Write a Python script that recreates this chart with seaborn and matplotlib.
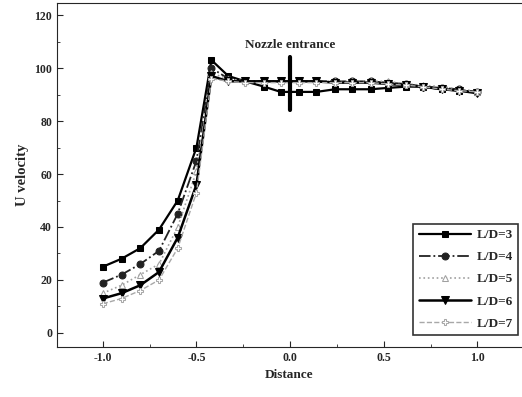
import matplotlib
matplotlib.use("Agg")
import matplotlib.pyplot as plt
import pandas as pd
import seaborn as sns
from matplotlib.ticker import MultipleLocator

sns.set_style("ticks")
plt.rcParams["font.family"] = ["Liberation Serif", "DejaVu Serif"]
plt.rcParams["font.weight"] = "bold"

distance = [-1.0, -0.9, -0.8, -0.7, -0.6, -0.5, -0.42, -0.33, -0.24, -0.14, -0.05,
            0.05, 0.14, 0.24, 0.33, 0.43, 0.52, 0.62, 0.71, 0.81, 0.9, 1.0]
ld3 = [25, 28, 32, 39, 50, 70, 103, 97, 95, 93, 91, 91, 91, 92, 92, 92, 92.5, 93, 93, 92, 91.5, 91]
ld4 = [19, 22, 26, 31, 45, 65, 100, 96, 95, 95, 95, 95, 95, 95, 95, 95, 94.5, 94, 93, 92.5, 92, 91]
ld5 = [15, 18, 22, 26, 40, 61, 98, 96, 95, 95, 95, 95, 95, 95, 95, 95, 95, 94, 93.5, 93, 92, 91]
ld6 = [13, 15, 18, 23, 36, 56, 97, 95, 95, 95, 95, 95, 95, 94.5, 94.5, 94.5, 94, 93.5, 93, 92, 91.5, 90.5]
ld7 = [11, 13, 16, 20, 32, 53, 96, 95, 94.5, 94.5, 94.5, 94.5, 94.5, 94.5, 94.5, 94.5, 94, 93.5, 93, 92, 91.5, 91]
labels = ["L/D=3", "L/D=4", "L/D=5", "L/D=6", "L/D=7"]

series = [ld3, ld4, ld5, ld6, ld7]
styles = [
    dict(color="black", linestyle="-", marker="s", ms=5, lw=1.6, mfc="black"),
    dict(color="#222222", linestyle="-.", marker="o", ms=5, lw=1.3, mfc="#222222"),
    dict(color="#a0a0a0", linestyle=":", marker="^", ms=5, lw=1.2, mfc="white"),
    dict(color="black", linestyle="-", marker="v", ms=6, lw=1.8, mfc="black"),
    dict(color="#a8a8a8", linestyle="--", marker="P", ms=5, lw=1.0, mfc="white"),
]

fig = plt.figure(figsize=(5.22, 3.97), dpi=100)
ax = fig.add_axes([0.109, 0.126, 0.89, 0.866])

for vals, lab, st in zip(series, labels, styles):
    df = pd.DataFrame({"Distance": distance, "U": vals})
    sns.lineplot(data=df, x="Distance", y="U", ax=ax, label=lab,
                 color=st["color"], linestyle=st["linestyle"], marker=st["marker"],
                 markersize=st["ms"], linewidth=st["lw"], markerfacecolor=st["mfc"],
                 markeredgecolor=st["color"])

ax.plot([0, 0], [84, 104], color="black", lw=3)
ax.text(0, 106.5, "Nozzle entrance", ha="center", va="bottom", fontsize=9.5, fontweight="bold")

ax.set_xlim(-1.245, 1.235)
ax.set_ylim(-5.3, 124.5)
ax.xaxis.set_major_locator(MultipleLocator(0.5))
ax.xaxis.set_minor_locator(MultipleLocator(0.25))
ax.yaxis.set_major_locator(MultipleLocator(20))
ax.yaxis.set_minor_locator(MultipleLocator(10))
ax.set_xticklabels([f"{t:.1f}" for t in ax.get_xticks()])
ax.tick_params(which="both", direction="in", labelsize=8.5)
ax.tick_params(which="major", length=4)
ax.tick_params(which="minor", length=2)
for lbl in ax.get_xticklabels() + ax.get_yticklabels():
    lbl.set_fontweight("bold")
ax.spines["right"].set_visible(False)
ax.set_xlabel("Distance", fontsize=9.5, fontweight="bold")
ax.set_ylabel("U velocity", fontsize=10.5, fontweight="bold")

leg = ax.legend(loc="lower right", bbox_to_anchor=(0.993, 0.035), handlelength=4,
                frameon=True, fancybox=False, edgecolor="black", borderaxespad=0.0,
                labelspacing=0.75, handletextpad=0.4,
                prop={"weight": "bold", "size": 9.5})
leg.get_frame().set_linewidth(1.2)

fig.savefig("out.png", dpi=100)
